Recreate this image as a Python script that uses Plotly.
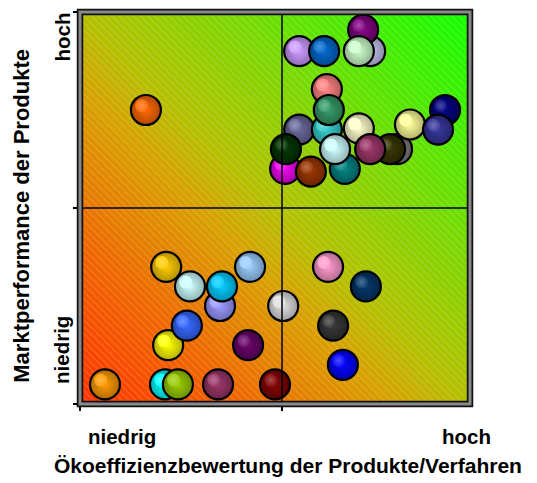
import numpy as np
import plotly.graph_objects as go

# ---- data (Ökoeffizienz x, Marktperformance y; scale 0..100) ----
names = ["orange", "lavendel", "blau", "hell-lavendel", "lila", "hellgrün", "lachs", "schiefer",
         "türkis", "seegrün", "magenta", "dunkelgrün", "braun", "petrol", "hellcyan", "elfenbein",
         "grau", "dunkeloliv", "pflaume", "hellgelb", "marine", "dunkelschieferblau",
         "gold", "blasscyan", "immergrün", "himmelblau", "stahlblau", "gelb", "königsblau",
         "dunkellila", "hellgrau", "rosa", "dunkelmarine", "dunkelgrau", "reinblau", "hellorange",
         "cyan", "gelbgrün", "himbeer", "kastanie"]
eco_x = [16.9, 56.2, 62.6, 74.4, 72.6, 71.5, 63.3, 56.2,
         63.3, 63.8, 52.6, 52.8, 59.2, 67.9, 65.4, 71.5,
         81.3, 79.5, 74.4, 84.6, 93.6, 91.8,
         22.1, 28.2, 35.9, 36.4, 43.6, 22.6, 27.4,
         43.1, 52.1, 63.6, 73.3, 64.9, 67.4, 6.4,
         21.8, 25.1, 35.4, 50.0]
market_y = [75, 90, 90, 90, 95.5, 90, 80.3, 70,
            70, 75, 60, 65, 59.3, 60, 65, 70.3,
            65, 65, 65, 71.3, 75, 70,
            35, 30, 25, 30, 35, 15, 20,
            15, 25, 35, 30, 20, 10, 5,
            5, 5, 5, 5]
colors = ["#FF6600", "#CC99FF", "#0066CC", "#C4C4F0", "#800080", "#CCFFCC", "#FF8080", "#666699",
          "#33CCCC", "#339966", "#EE00EE", "#003300", "#993300", "#008080", "#CCFFFF", "#FFFFCC",
          "#808080", "#333300", "#993366", "#FFFF99", "#000080", "#333399",
          "#FFCC00", "#CCFFFF", "#9999FF", "#00CCFF", "#99CCFF", "#FFFF00", "#3366FF",
          "#660066", "#E0E0E0", "#FF99CC", "#003366", "#333333", "#0000FF", "#FF9900",
          "#00FFFF", "#99CC00", "#993366", "#800000"]

tick_labels = ["niedrig", "hoch"]
x_title = "Ökoeffizienzbewertung der Produkte/Verfahren"
y_title = "Marktperformance der Produkte"
mid_x = 51.8
mid_y = 50.0


def hex_rgb(h):
    h = h.lstrip("#")
    return tuple(int(h[i:i + 2], 16) for i in (0, 2, 4))


def mix(h, target, t):
    r, g, b = hex_rgb(h)
    tr, tg, tb = target
    return "rgb(%d,%d,%d)" % (round(r + (tr - r) * t), round(g + (tg - g) * t), round(b + (tb - b) * t))


FONT = "Arial, Liberation Sans, sans-serif"

fig = go.Figure()

# background gradient (orange-red bottom-left -> green top-right)
gx = np.linspace(0, 100, 81)
gy = np.linspace(0, 100, 81)
GX, GY = np.meshgrid(gx, gy)
fig.add_trace(go.Heatmap(
    x=gx, y=gy, z=GX + GY, zsmooth="best", showscale=False, hoverinfo="skip",
    colorscale=[[0.0, "#FF3300"], [0.2, "#F06400"], [0.4, "#D8A000"],
    [0.5, "#B4C000"], [0.72, "#70DC00"], [1.0, "#10FF00"]]))

# fine diagonal hatching
fig.add_trace(go.Bar(
    x=[50], y=[100], width=[100], hoverinfo="skip",
    marker=dict(color="rgba(0,0,0,0)", line=dict(width=0),
                pattern=dict(shape="\\", fgcolor="white", fgopacity=0.2, size=5, solidity=0.2))))

# bubbles (one pair of traces per bubble to keep the drawing order)
dx, dy = -1.1, 1.1
for xv, yv, c in zip(eco_x, market_y, colors):
    fig.add_trace(go.Scatter(
        x=[xv], y=[yv], mode="markers", hoverinfo="skip",
        marker=dict(size=30, color=mix(c, (0, 0, 0), 0.3),
                    gradient=dict(type="radial", color=mix(c, (255, 255, 255), 0.03)),
                    line=dict(color="black", width=2.2))))
    fig.add_trace(go.Scatter(
        x=[xv + dx], y=[yv + dy], mode="markers", hoverinfo="skip",
        marker=dict(size=13, color=mix(c, (255, 255, 255), 0.06),
                    gradient=dict(type="radial", color=mix(c, (255, 255, 255), 0.3)),
                    line=dict(width=0))))

shapes = [
    dict(type="line", xref="x", yref="paper", x0=mid_x, x1=mid_x, y0=0, y1=1,
         line=dict(color="black", width=1.5), layer="above"),
    dict(type="line", xref="paper", yref="y", x0=0, x1=1, y0=mid_y, y1=mid_y,
         line=dict(color="black", width=1.5), layer="above"),
    dict(type="rect", xref="paper", yref="paper", x0=0, x1=1, y0=0, y1=1,
         line=dict(color="#111111", width=6.5), layer="above"),
    dict(type="rect", xref="paper", yref="paper", x0=0, x1=1, y0=0, y1=1,
         line=dict(color="#8a8a8a", width=3), layer="above"),
]

lab_font = dict(family=FONT, size=20.5, color="black", weight="bold")
annotations = [
    dict(text=tick_labels[0], xref="paper", yref="paper", x=0.108, y=-0.082,
         showarrow=False, font=lab_font, xanchor="center", yanchor="middle"),
    dict(text=tick_labels[1], xref="paper", yref="paper", x=0.992, y=-0.082,
         showarrow=False, font=lab_font, xanchor="center", yanchor="middle"),
    dict(text=tick_labels[1], xref="paper", yref="paper", x=-0.046, y=0.935,
         showarrow=False, font=lab_font, textangle=-90, xanchor="center", yanchor="middle"),
    dict(text=tick_labels[0], xref="paper", yref="paper", x=-0.046, y=0.138,
         showarrow=False, font=lab_font, textangle=-90, xanchor="center", yanchor="middle"),
    dict(text=x_title, xref="paper", yref="paper", x=0.533, y=-0.158,
         showarrow=False, font=dict(family=FONT, size=21, color="black", weight="bold"),
         xanchor="center", yanchor="middle"),
    dict(text=y_title, xref="paper", yref="paper", x=-0.149, y=0.48,
         showarrow=False, font=dict(family=FONT, size=22, color="black", weight="bold"),
         textangle=-90, xanchor="center", yanchor="middle"),
]

fig.update_layout(
    width=529, height=475,
    margin=dict(l=72, r=67, t=4, b=79, pad=0),
    paper_bgcolor="white", plot_bgcolor="white",
    showlegend=False, shapes=shapes, annotations=annotations,
    xaxis=dict(range=[0, 100], showgrid=False, zeroline=False, showline=False,
               tickvals=[0, mid_x], ticks="outside", ticklen=6, tickwidth=1.5,
               tickcolor="black", showticklabels=False, fixedrange=True),
    yaxis=dict(range=[0, 100], showgrid=False, zeroline=False, showline=False,
               tickvals=[0, mid_y, 100], ticks="outside", ticklen=6, tickwidth=1.5,
               tickcolor="black", showticklabels=False, fixedrange=True),
    bargap=0,
)

fig.write_html("out.html")
